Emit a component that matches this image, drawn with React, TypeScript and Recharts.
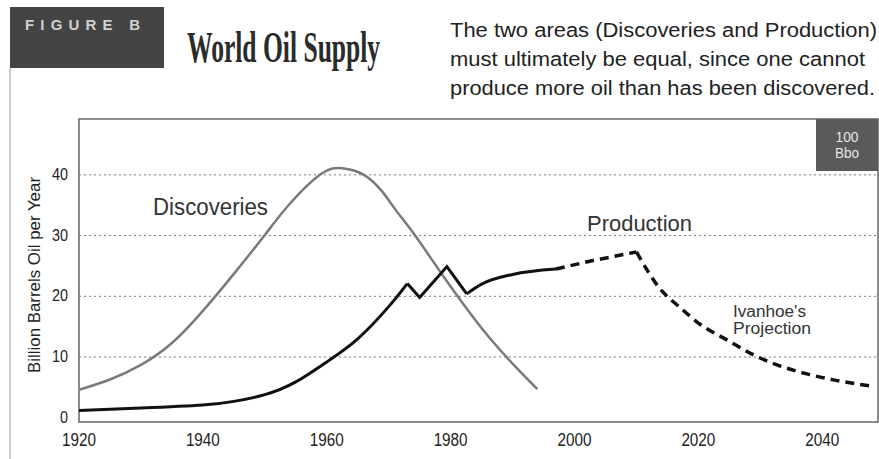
import { LineChart, Line, XAxis, YAxis, ReferenceLine, ReferenceArea } from "recharts";

const discYears = [1920, 1925, 1930, 1935, 1940, 1945, 1950, 1954, 1959, 1962.5, 1966, 1969, 1971, 1974, 1977, 1980, 1983, 1986, 1990, 1994];
const discValues = [4.6, 6.3, 8.7, 12.3, 17.6, 23.7, 30.1, 35.2, 40.1, 41.1, 40, 37.2, 34.4, 30.4, 26, 21.6, 17.4, 13.5, 8.9, 4.7];

const prodYears = [1920, 1930, 1940, 1945, 1950, 1955, 1960, 1965, 1970, 1973, 1975, 1979.4, 1982.6, 1985, 1990, 1997];
const prodValues = [1.2, 1.6, 2.1, 2.7, 3.8, 5.9, 9.2, 13, 18.3, 22.1, 19.8, 24.9, 20.4, 22, 23.6, 24.5];

const projYears = [1997, 2003, 2010, 2014, 2017, 2020, 2025, 2029, 2033, 2038, 2042, 2048];
const projValues = [24.5, 25.9, 27.3, 21, 18.2, 15.6, 12.6, 10.3, 8.6, 7.1, 6.2, 5.2];

const xTicks = [1920, 1940, 1960, 1980, 2000, 2020, 2040];
const yTicks = [0, 10, 20, 30, 40];
const gridValues = [10, 20, 30, 40];

const X_MIN = 1920;
const X_MAX = 2049;
const Y_MIN = -0.7;
const Y_MAX = 49.2;

const discoveries = discYears.map((year, i) => ({ year, value: discValues[i] }));
const production = prodYears.map((year, i) => ({ year, value: prodValues[i] }));
const prodEarly = production.filter((d) => d.year <= 1973);
const prodShock = production.filter((d) => d.year >= 1973 && d.year <= 1982.6);
const prodLate = production.filter((d) => d.year >= 1982.6);
const projection = projYears.map((year, i) => ({ year, value: projValues[i] }));
const projRise = projection.filter((d) => d.year <= 2010);
const projFall = projection.filter((d) => d.year >= 2010);

const SANS = "'Liberation Sans', Arial, sans-serif";

const XTick = ({ x, y, payload }: any) => (
  <text x={x} y={y} dy={16} textAnchor="middle" fontSize={18} fontFamily={SANS} fill="#222"
    textLength={34} lengthAdjust="spacingAndGlyphs">
    {payload.value}
  </text>
);

const YTick = ({ x, y, payload }: any) => {
  const s = String(payload.value);
  return (
    <text x={x} y={y} dx={-3} dy={5} textAnchor="end" fontSize={17} fontFamily={SANS} fill="#222"
      textLength={s.length * 8} lengthAdjust="spacingAndGlyphs">
      {s}
    </text>
  );
};

export default function App() {
  return (
    <div style={{ position: "absolute", left: 0, top: 0, width: 879, height: 459, background: "#fff" }}>
      <LineChart width={879} height={459} margin={{ top: 119, right: 1, bottom: 7, left: 20 }}>
        <XAxis dataKey="year" type="number" domain={[X_MIN, X_MAX]} ticks={xTicks} height={30}
          axisLine={false} tickLine={false} tick={<XTick />} allowDataOverflow />
        <YAxis type="number" domain={[Y_MIN, Y_MAX]} ticks={yTicks} width={59}
          axisLine={false} tickLine={false} tick={<YTick />} allowDataOverflow />
        {gridValues.map((v) => (
          <ReferenceLine key={v} y={v} stroke="#777" strokeDasharray="2 3" strokeWidth={1} />
        ))}
        <ReferenceArea x1={X_MIN} x2={X_MAX} y1={Y_MIN} y2={Y_MAX} fill="none" stroke="#666" strokeWidth={1.5} fillOpacity={0} />
        <Line data={discoveries} dataKey="value" type="natural" stroke="#7a7a7a" strokeWidth={2.5} dot={false} isAnimationActive={false} />
        <Line data={prodEarly} dataKey="value" type="natural" stroke="#111" strokeWidth={3} dot={false} isAnimationActive={false} />
        <Line data={prodShock} dataKey="value" type="linear" stroke="#111" strokeWidth={3} dot={false} isAnimationActive={false} />
        <Line data={prodLate} dataKey="value" type="monotone" stroke="#111" strokeWidth={3} dot={false} isAnimationActive={false} />
        <Line data={projRise} dataKey="value" type="linear" stroke="#111" strokeWidth={3.5} strokeDasharray="9 6" dot={false} isAnimationActive={false} />
        <Line data={projFall} dataKey="value" type="monotone" stroke="#111" strokeWidth={3.5} strokeDasharray="9 6" dot={false} isAnimationActive={false} />
      </LineChart>
      <svg width={879} height={459} style={{ position: "absolute", left: 0, top: 0, pointerEvents: "none" }}>
        <rect x={10} y={7} width={154} height={61} fill="#444" />
        <line x1={10} y1={68} x2={10} y2={459} stroke="#999" strokeWidth={1} />
        <text x={25} y={30} fontSize={15} fontWeight="bold" fontFamily={SANS} fill="#d0d0d0"
          textLength={115} lengthAdjust="spacing">FIGURE B</text>
        {/* condensed serif title: squeeze a regular bold serif horizontally */}
        <text transform="translate(187,62) scale(0.58,1)" x={0} y={0} fontSize={44} fontWeight="bold"
          fontFamily="'Liberation Serif', serif" fill="#2b2b2b" textLength={333} lengthAdjust="spacingAndGlyphs">
          World Oil Supply
        </text>
        <text fontSize={19.5} fontFamily={SANS} fill="#222">
          <tspan x={450} y={37} textLength={427} lengthAdjust="spacingAndGlyphs">The two areas (Discoveries and Production)</tspan>
          <tspan x={450} y={66} textLength={415} lengthAdjust="spacingAndGlyphs">must ultimately be equal, since one cannot</tspan>
          <tspan x={450} y={95} textLength={425} lengthAdjust="spacingAndGlyphs">produce more oil than has been discovered.</tspan>
        </text>
        <text transform="translate(40,275) rotate(-90)" textAnchor="middle" fontSize={17} fontFamily={SANS} fill="#222"
          textLength={196} lengthAdjust="spacingAndGlyphs">Billion Barrels Oil per Year</text>
        <text x={153} y={215} fontSize={23} fontFamily={SANS} fill="#333" textLength={115} lengthAdjust="spacingAndGlyphs">Discoveries</text>
        <text x={587} y={231} fontSize={22} fontFamily={SANS} fill="#333" textLength={105} lengthAdjust="spacingAndGlyphs">Production</text>
        <text fontSize={16} fontFamily={SANS} fill="#333">
          <tspan x={733} y={317} textLength={73} lengthAdjust="spacingAndGlyphs">Ivanhoe's</tspan>
          <tspan x={733} y={334} textLength={78} lengthAdjust="spacingAndGlyphs">Projection</tspan>
        </text>
        <rect x={816} y={119} width={62} height={52} fill="#5a5a5a" />
        <text textAnchor="middle" fontSize={14} fontFamily={SANS} fill="#e6e6e6">
          <tspan x={847} y={142} textLength={23} lengthAdjust="spacingAndGlyphs">100</tspan>
          <tspan x={847} y={158} textLength={24} lengthAdjust="spacingAndGlyphs">Bbo</tspan>
        </text>
      </svg>
    </div>
  );
}
